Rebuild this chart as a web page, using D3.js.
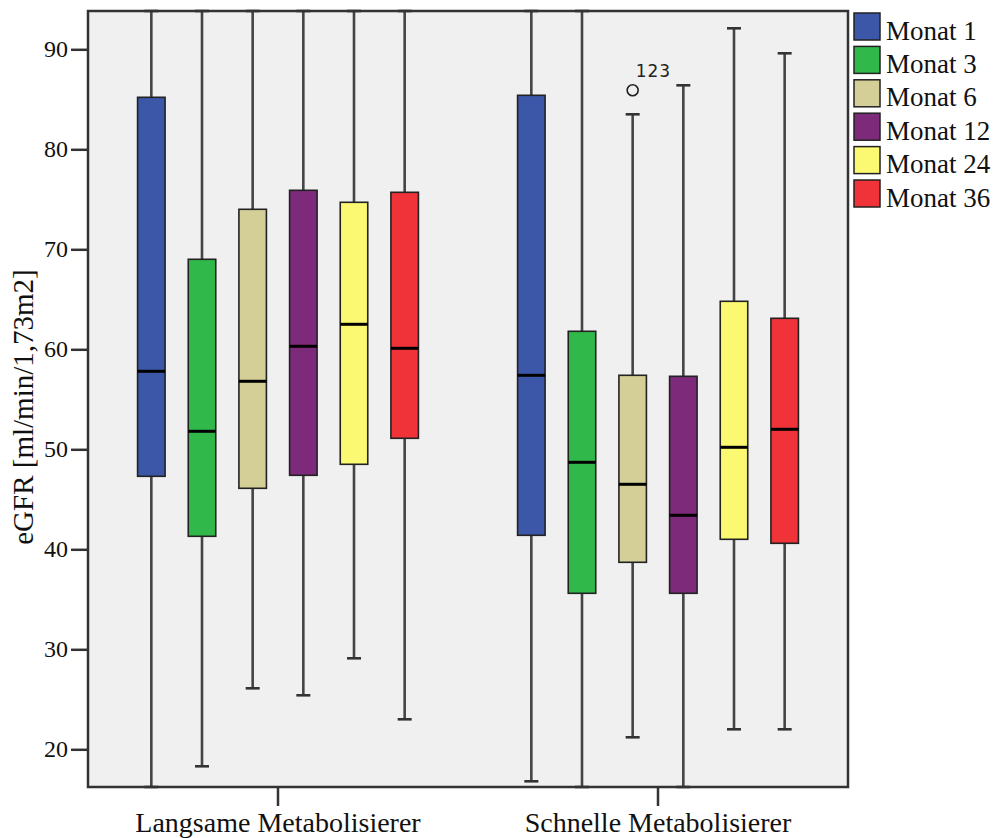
<!DOCTYPE html>
<html>
<head>
<meta charset="utf-8">
<script src="https://cdn.jsdelivr.net/npm/d3@7"></script>
<style>
  html, body { margin: 0; padding: 0; background: #ffffff; }
  svg { display: block; }
  .serif { font-family: "Liberation Serif", "Times New Roman", serif; }
</style>
</head>
<body>
<svg id="chart" width="999" height="838"></svg>
<script>
// ---- data ----
const groups = ["Langsame Metabolisierer", "Schnelle Metabolisierer"];
const months = ["Monat 1", "Monat 3", "Monat 6", "Monat 12", "Monat 24", "Monat 36"];
const colors = ["#3c57a8", "#30b84a", "#d3cf97", "#7e2a7b", "#fbf872", "#ef3339"];
const yTicks = [20, 30, 40, 50, 60, 70, 80, 90];
// per group, per month: [lower whisker, Q1, median, Q3, upper whisker]
const langsameStats = [
  [12.0, 47.3, 57.8, 85.2, 98.0],
  [18.3, 41.3, 51.8, 69.0, 98.0],
  [26.1, 46.1, 56.8, 74.0, 98.0],
  [25.4, 47.4, 60.3, 75.9, 98.0],
  [29.1, 48.5, 62.5, 74.7, 98.0],
  [23.0, 51.1, 60.1, 75.7, 98.0]
];
const schnelleStats = [
  [16.8, 41.4, 57.4, 85.4, 98.0],
  [12.0, 35.6, 48.7, 61.8, 98.0],
  [21.2, 38.7, 46.5, 57.4, 83.5],
  [12.0, 35.6, 43.4, 57.3, 86.4],
  [22.0, 41.0, 50.2, 64.8, 92.1],
  [22.0, 40.6, 52.0, 63.1, 89.6]
];
// outliers: [group, month, value, label]
const outliers = [["Schnelle Metabolisierer", "Monat 6", 85.9, "123"]];
const yTitle = "eGFR [ml/min/1,73m2]";

// ---- layout ----
const svg = d3.select("#chart");
const pL = 88, pR = 848, pT = 11, pB = 787;

const y = d3.scaleLinear().domain([16.23, 93.83]).range([pB, pT]).clamp(true);
const x0 = d3.scaleBand().domain(groups).range([pL, pR]);
const x1 = d3.scaleBand().domain(months).range([-152, 152]);
const color = d3.scaleOrdinal().domain(months).range(colors);
const boxW = 27.5, capW = 14;

svg.append("rect")
  .attr("x", pL).attr("y", pT)
  .attr("width", pR - pL).attr("height", pB - pT)
  .attr("fill", "#f0f0f0");

const statsByGroup = { [groups[0]]: langsameStats, [groups[1]]: schnelleStats };
const boxes = [];
groups.forEach(g => months.forEach((m, i) => {
  const s = statsByGroup[g][i];
  boxes.push({ g, m, lo: s[0], q1: s[1], med: s[2], q3: s[3], hi: s[4] });
}));
const cx = d => x0(d.g) + x0.bandwidth() / 2 + x1(d.m) + x1.bandwidth() / 2;

const bx = svg.append("g");
const b = bx.selectAll("g.box").data(boxes).join("g").attr("class", "box");
// whiskers
b.append("line")
  .attr("x1", cx).attr("x2", cx)
  .attr("y1", d => y(d.hi)).attr("y2", d => y(d.lo))
  .attr("stroke", "#444").attr("stroke-width", 2.6);
b.append("line")
  .attr("x1", d => cx(d) - capW / 2).attr("x2", d => cx(d) + capW / 2)
  .attr("y1", d => y(d.hi)).attr("y2", d => y(d.hi))
  .attr("stroke", "#333").attr("stroke-width", 2.6);
b.append("line")
  .attr("x1", d => cx(d) - capW / 2).attr("x2", d => cx(d) + capW / 2)
  .attr("y1", d => y(d.lo)).attr("y2", d => y(d.lo))
  .attr("stroke", "#333").attr("stroke-width", 2.6);
// box
b.append("rect")
  .attr("x", d => cx(d) - boxW / 2).attr("width", boxW)
  .attr("y", d => y(d.q3)).attr("height", d => y(d.q1) - y(d.q3))
  .attr("fill", d => color(d.m))
  .attr("stroke", "#222").attr("stroke-width", 1.6);
// median
b.append("line")
  .attr("x1", d => cx(d) - boxW / 2).attr("x2", d => cx(d) + boxW / 2)
  .attr("y1", d => y(d.med)).attr("y2", d => y(d.med))
  .attr("stroke", "#000").attr("stroke-width", 3);

// outliers
outliers.forEach(o => {
  const d = { g: o[0], m: o[1] };
  const ox = cx(d), oy = y(o[2]);
  svg.append("circle").attr("cx", ox).attr("cy", oy).attr("r", 5.5)
    .attr("fill", "none").attr("stroke", "#222").attr("stroke-width", 1.6);
  svg.append("text").attr("x", ox + 3).attr("y", oy - 13)
    .style("font-family", "'DejaVu Sans', sans-serif").style("font-size", "17px")
    .attr("letter-spacing", 1)
    .attr("fill", "#222").text(o[3]);
});

// frame
svg.append("rect")
  .attr("x", pL).attr("y", pT)
  .attr("width", pR - pL).attr("height", pB - pT)
  .attr("fill", "none").attr("stroke", "#333").attr("stroke-width", 2.5);

// y axis
const yAxis = svg.append("g").attr("transform", `translate(${pL},0)`)
  .call(d3.axisLeft(y).tickValues(yTicks).tickSize(17).tickPadding(3).tickSizeOuter(0));
yAxis.attr("font-family", null);
yAxis.select(".domain").remove();
yAxis.selectAll(".tick line").attr("stroke", "#333").attr("stroke-width", 2.5);
yAxis.selectAll(".tick text").attr("class", "serif").style("font-size", "24px").attr("fill", "#111");

// x axis
const xAxis = svg.append("g").attr("transform", `translate(0,${pB})`)
  .call(d3.axisBottom(x0).tickSize(19).tickPadding(6).tickSizeOuter(0));
xAxis.attr("font-family", null);
xAxis.select(".domain").remove();
xAxis.selectAll(".tick line").attr("stroke", "#333").attr("stroke-width", 2.5);
xAxis.selectAll(".tick text").attr("class", "serif").style("font-size", "28px").attr("fill", "#111");

// y title
svg.append("text")
  .attr("class", "serif")
  .attr("transform", `translate(33,407) rotate(-90)`)
  .attr("text-anchor", "middle")
  .style("font-size", "29px").attr("fill", "#111")
  .text(yTitle);

// legend
const lg = svg.append("g").selectAll("g").data(months).join("g")
  .attr("transform", (d, i) => `translate(854,${13 + i * 33.4})`);
lg.append("rect").attr("width", 26).attr("height", 27)
  .attr("fill", d => color(d)).attr("stroke", "#222").attr("stroke-width", 1.5);
lg.append("text").attr("class", "serif").attr("x", 32).attr("y", 26.5)
  .style("font-size", "27px").attr("fill", "#111")
  .text(d => d);
</script>
</body>
</html>
